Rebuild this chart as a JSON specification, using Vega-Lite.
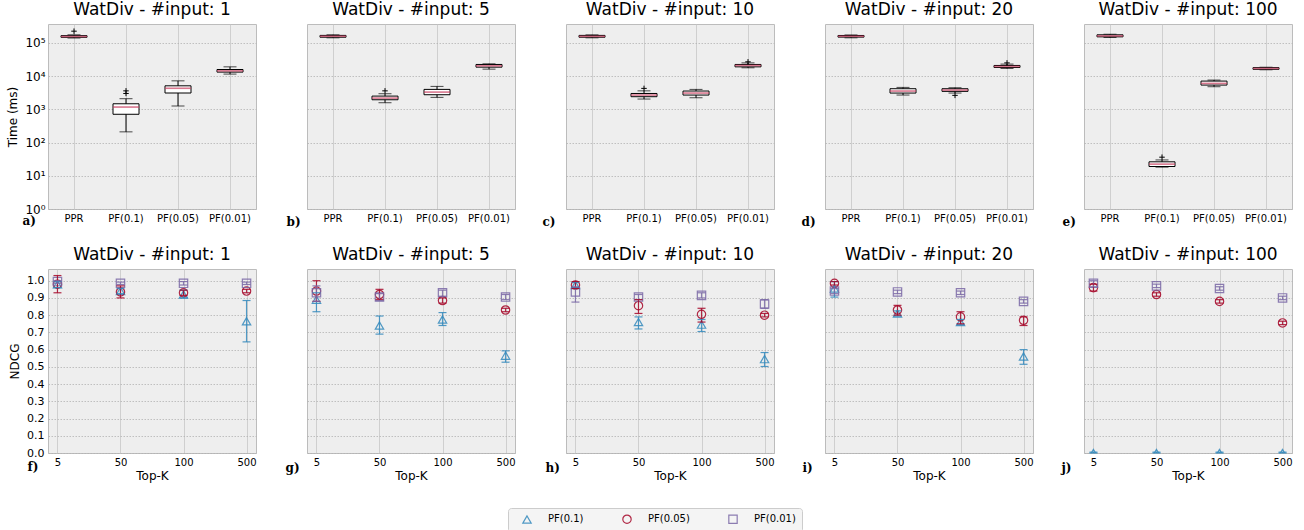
{
"$schema": "https://vega.github.io/schema/vega-lite/v6.json",
"padding": {"left": 6, "top": 0, "right": 5, "bottom": 0},
"datasets": {
"box": [
{"input":1,"method":"PPR","lo":140000,"q1":147000,"med":155000,"q3":165000,"hi":175000},
{"input":1,"method":"PF(0.1)","lo":210,"q1":710,"med":1170,"q3":1470,"hi":2090},
{"input":1,"method":"PF(0.05)","lo":1260,"q1":3100,"med":4300,"q3":5100,"hi":7200},
{"input":1,"method":"PF(0.01)","lo":11500,"q1":13200,"med":14400,"q3":15800,"hi":19000},
{"input":5,"method":"PPR","lo":142000,"q1":148000,"med":158000,"q3":168000,"hi":175000},
{"input":5,"method":"PF(0.1)","lo":1580,"q1":1940,"med":2180,"q3":2500,"hi":2950},
{"input":5,"method":"PF(0.05)","lo":2290,"q1":2750,"med":3300,"q3":3980,"hi":4900},
{"input":5,"method":"PF(0.01)","lo":16200,"q1":18600,"med":20400,"q3":22400,"hi":23400},
{"input":10,"method":"PPR","lo":142000,"q1":148000,"med":157000,"q3":168000,"hi":174000},
{"input":10,"method":"PF(0.1)","lo":2040,"q1":2400,"med":2690,"q3":3000,"hi":3600},
{"input":10,"method":"PF(0.05)","lo":2230,"q1":2690,"med":3090,"q3":3550,"hi":3980},
{"input":10,"method":"PF(0.01)","lo":17800,"q1":19000,"med":20900,"q3":22400,"hi":25000},
{"input":20,"method":"PPR","lo":142000,"q1":149000,"med":158000,"q3":167000,"hi":173000},
{"input":20,"method":"PF(0.1)","lo":2690,"q1":3090,"med":3550,"q3":4170,"hi":4570},
{"input":20,"method":"PF(0.05)","lo":3090,"q1":3470,"med":3800,"q3":4170,"hi":4470},
{"input":20,"method":"PF(0.01)","lo":17000,"q1":18200,"med":19500,"q3":20900,"hi":23000},
{"input":100,"method":"PPR","lo":145000,"q1":152000,"med":162000,"q3":175000,"hi":182000},
{"input":100,"method":"PF(0.1)","lo":18.2,"q1":19,"med":22.4,"q3":26.3,"hi":30},
{"input":100,"method":"PF(0.05)","lo":4790,"q1":5370,"med":6030,"q3":7080,"hi":7600},
{"input":100,"method":"PF(0.01)","lo":15500,"q1":16000,"med":17000,"q3":18000,"hi":18500}
],
"outliers": [
{"input":1,"method":"PPR","value":225000},
{"input":1,"method":"PF(0.1)","value":3000},
{"input":1,"method":"PF(0.1)","value":3600},
{"input":5,"method":"PF(0.1)","value":3600},
{"input":10,"method":"PF(0.1)","value":4270},
{"input":10,"method":"PF(0.01)","value":26900},
{"input":20,"method":"PF(0.05)","value":2630},
{"input":20,"method":"PF(0.01)","value":25000},
{"input":100,"method":"PF(0.1)","value":36.3}
],
"ndcg": [
{"input":1,"k":5,"method":"PF(0.1)","v":0.98,"lo":0.96,"hi":0.995},
{"input":1,"k":5,"method":"PF(0.05)","v":0.98,"lo":0.93,"hi":1.03},
{"input":1,"k":5,"method":"PF(0.01)","v":0.995,"lo":0.985,"hi":1.0},
{"input":1,"k":50,"method":"PF(0.1)","v":0.94,"lo":0.925,"hi":0.955},
{"input":1,"k":50,"method":"PF(0.05)","v":0.935,"lo":0.9,"hi":0.97},
{"input":1,"k":50,"method":"PF(0.01)","v":0.985,"lo":0.978,"hi":0.992},
{"input":1,"k":100,"method":"PF(0.1)","v":0.92,"lo":0.9,"hi":0.945},
{"input":1,"k":100,"method":"PF(0.05)","v":0.93,"lo":0.915,"hi":0.945},
{"input":1,"k":100,"method":"PF(0.01)","v":0.985,"lo":0.975,"hi":0.995},
{"input":1,"k":500,"method":"PF(0.1)","v":0.765,"lo":0.645,"hi":0.885},
{"input":1,"k":500,"method":"PF(0.05)","v":0.94,"lo":0.93,"hi":0.95},
{"input":1,"k":500,"method":"PF(0.01)","v":0.985,"lo":0.978,"hi":0.992},
{"input":5,"k":5,"method":"PF(0.1)","v":0.89,"lo":0.82,"hi":0.93},
{"input":5,"k":5,"method":"PF(0.05)","v":0.94,"lo":0.88,"hi":1.0},
{"input":5,"k":5,"method":"PF(0.01)","v":0.93,"lo":0.88,"hi":0.97},
{"input":5,"k":50,"method":"PF(0.1)","v":0.74,"lo":0.69,"hi":0.795},
{"input":5,"k":50,"method":"PF(0.05)","v":0.92,"lo":0.89,"hi":0.95},
{"input":5,"k":50,"method":"PF(0.01)","v":0.905,"lo":0.885,"hi":0.925},
{"input":5,"k":100,"method":"PF(0.1)","v":0.775,"lo":0.74,"hi":0.815},
{"input":5,"k":100,"method":"PF(0.05)","v":0.885,"lo":0.87,"hi":0.9},
{"input":5,"k":100,"method":"PF(0.01)","v":0.93,"lo":0.91,"hi":0.945},
{"input":5,"k":500,"method":"PF(0.1)","v":0.565,"lo":0.527,"hi":0.593},
{"input":5,"k":500,"method":"PF(0.05)","v":0.83,"lo":0.82,"hi":0.84},
{"input":5,"k":500,"method":"PF(0.01)","v":0.905,"lo":0.89,"hi":0.92},
{"input":10,"k":5,"method":"PF(0.1)","v":0.975,"lo":0.96,"hi":0.99},
{"input":10,"k":5,"method":"PF(0.05)","v":0.975,"lo":0.955,"hi":0.995},
{"input":10,"k":5,"method":"PF(0.01)","v":0.935,"lo":0.876,"hi":0.965},
{"input":10,"k":50,"method":"PF(0.1)","v":0.76,"lo":0.72,"hi":0.79},
{"input":10,"k":50,"method":"PF(0.05)","v":0.855,"lo":0.81,"hi":0.89},
{"input":10,"k":50,"method":"PF(0.01)","v":0.905,"lo":0.89,"hi":0.92},
{"input":10,"k":100,"method":"PF(0.1)","v":0.745,"lo":0.705,"hi":0.775},
{"input":10,"k":100,"method":"PF(0.05)","v":0.805,"lo":0.76,"hi":0.84},
{"input":10,"k":100,"method":"PF(0.01)","v":0.915,"lo":0.9,"hi":0.93},
{"input":10,"k":500,"method":"PF(0.1)","v":0.545,"lo":0.502,"hi":0.583},
{"input":10,"k":500,"method":"PF(0.05)","v":0.8,"lo":0.79,"hi":0.81},
{"input":10,"k":500,"method":"PF(0.01)","v":0.865,"lo":0.84,"hi":0.89},
{"input":20,"k":5,"method":"PF(0.1)","v":0.955,"lo":0.905,"hi":0.995},
{"input":20,"k":5,"method":"PF(0.05)","v":0.985,"lo":0.975,"hi":0.995},
{"input":20,"k":5,"method":"PF(0.01)","v":0.94,"lo":0.925,"hi":0.955},
{"input":20,"k":50,"method":"PF(0.1)","v":0.81,"lo":0.795,"hi":0.825},
{"input":20,"k":50,"method":"PF(0.05)","v":0.83,"lo":0.8,"hi":0.857},
{"input":20,"k":50,"method":"PF(0.01)","v":0.935,"lo":0.925,"hi":0.945},
{"input":20,"k":100,"method":"PF(0.1)","v":0.76,"lo":0.745,"hi":0.775},
{"input":20,"k":100,"method":"PF(0.05)","v":0.79,"lo":0.75,"hi":0.82},
{"input":20,"k":100,"method":"PF(0.01)","v":0.93,"lo":0.92,"hi":0.94},
{"input":20,"k":500,"method":"PF(0.1)","v":0.56,"lo":0.515,"hi":0.6},
{"input":20,"k":500,"method":"PF(0.05)","v":0.77,"lo":0.74,"hi":0.79},
{"input":20,"k":500,"method":"PF(0.01)","v":0.88,"lo":0.87,"hi":0.89},
{"input":100,"k":5,"method":"PF(0.1)","v":0.0,"lo":0.0,"hi":0.005},
{"input":100,"k":5,"method":"PF(0.05)","v":0.96,"lo":0.94,"hi":0.98},
{"input":100,"k":5,"method":"PF(0.01)","v":0.985,"lo":0.965,"hi":1.0},
{"input":100,"k":50,"method":"PF(0.1)","v":0.0,"lo":0.0,"hi":0.005},
{"input":100,"k":50,"method":"PF(0.05)","v":0.92,"lo":0.91,"hi":0.93},
{"input":100,"k":50,"method":"PF(0.01)","v":0.97,"lo":0.96,"hi":0.98},
{"input":100,"k":100,"method":"PF(0.1)","v":0.0,"lo":0.0,"hi":0.005},
{"input":100,"k":100,"method":"PF(0.05)","v":0.88,"lo":0.87,"hi":0.89},
{"input":100,"k":100,"method":"PF(0.01)","v":0.955,"lo":0.945,"hi":0.965},
{"input":100,"k":500,"method":"PF(0.1)","v":0.0,"lo":0.0,"hi":0.005},
{"input":100,"k":500,"method":"PF(0.05)","v":0.755,"lo":0.745,"hi":0.765},
{"input":100,"k":500,"method":"PF(0.01)","v":0.9,"lo":0.89,"hi":0.91}
]
},
"config": {
"background": "white",
"font": "DejaVu Sans",
"view": {"fill": "#eeeeee", "stroke": "#bcbcbc", "strokeWidth": 1},
"title": {"fontSize": 17, "fontWeight": "normal", "font": "DejaVu Sans", "baseline": "alphabetic", "offset": 5, "color": "black"},
"axis": {"domain": false, "ticks": false, "labelFont": "DejaVu Sans", "labelFontSize": 10, "labelColor": "black", "titleFont": "DejaVu Sans", "titleFontSize": 12, "titleFontWeight": "normal", "titleColor": "black", "gridColor": "#b2b2b2", "gridDash": [1.5, 1.5], "gridWidth": 0.8},
"legend": {"orient": "none", "legendX": 460, "legendY": 484, "direction": "horizontal", "columns": 3, "columnPadding": 30, "padding": 6, "strokeColor": "#cccccc", "fillColor": "#f4f4f4", "cornerRadius": 3, "labelFont": "DejaVu Sans", "labelFontSize": 10, "labelColor": "black", "symbolStrokeWidth": 1.2, "symbolSize": 70, "symbolOffset": 8, "labelOffset": 16}
},
"bounds": "flush",
"columns": 5,
"spacing": {"row": 60, "column": 51},
"concat": [
{"width": 208, "height": 185, "title": "WatDiv - #input: 1", "layer": [
 {"data": {"name": "box"}, "transform": [{"filter": "datum.input == 1"}],
  "encoding": {"x": {"field": "method", "type": "nominal", "sort": ["PPR","PF(0.1)","PF(0.05)","PF(0.01)"], "scale": {"paddingInner": 0, "paddingOuter": 0}, "axis": {"title": "a)", "titleX": -26, "titleY": 15, "titleAlign": "left", "titleBaseline": "alphabetic", "titleFont": "DejaVu Serif", "titleFontWeight": "bold", "titleFontSize": 12, "labelAngle": 0, "labelPadding": 4, "bandPosition": 0.5, "grid": true, "gridDash": [], "gridColor": "#c6c6c6"}}},
  "layer": [
   {"mark": {"type": "rule", "color": "black", "strokeWidth": 1}, "encoding": {"y": {"field": "lo", "type": "quantitative", "scale": {"type": "log", "domain": [1, 370000], "nice": false}, "axis": {"title": "Time (ms)", "values": [1,10,100,1000,10000,100000], "labelExpr": "'10' + ['⁰','¹','²','³','⁴','⁵'][round(log(datum.value)/LN10)]", "labelFontSize": 12, "labelPadding": 3, "titlePadding": 5}}, "y2": {"field": "hi"}}},
   {"mark": {"type": "tick", "size": 13, "thickness": 1, "color": "black"}, "encoding": {"y": {"field": "lo", "type": "quantitative"}}},
   {"mark": {"type": "tick", "size": 13, "thickness": 1, "color": "black"}, "encoding": {"y": {"field": "hi", "type": "quantitative"}}},
   {"mark": {"type": "bar", "size": 26, "fill": "white", "stroke": "black", "strokeWidth": 1}, "encoding": {"y": {"field": "q1", "type": "quantitative"}, "y2": {"field": "q3"}}},
   {"mark": {"type": "tick", "size": 26, "thickness": 1.6, "color": "#C83D5F"}, "encoding": {"y": {"field": "med", "type": "quantitative"}}}
  ]},
 {"data": {"name": "outliers"}, "transform": [{"filter": "datum.input == 1"}], "mark": {"type": "point", "shape": "M-1,0L1,0M0,-1L0,1", "filled": false, "stroke": "black", "strokeWidth": 1, "size": 30, "opacity": 1}, "encoding": {"x": {"field": "method", "type": "nominal", "sort": ["PPR","PF(0.1)","PF(0.05)","PF(0.01)"]}, "y": {"field": "value", "type": "quantitative"}}}
]},
{"width": 208, "height": 185, "title": "WatDiv - #input: 5", "layer": [
 {"data": {"name": "box"}, "transform": [{"filter": "datum.input == 5"}],
  "encoding": {"x": {"field": "method", "type": "nominal", "sort": ["PPR","PF(0.1)","PF(0.05)","PF(0.01)"], "scale": {"paddingInner": 0, "paddingOuter": 0}, "axis": {"title": "b)", "titleX": -21, "titleY": 16, "titleAlign": "left", "titleBaseline": "alphabetic", "titleFont": "DejaVu Serif", "titleFontWeight": "bold", "titleFontSize": 12, "labelAngle": 0, "labelPadding": 4, "bandPosition": 0.5, "grid": true, "gridDash": [], "gridColor": "#c6c6c6"}}},
  "layer": [
   {"mark": {"type": "rule", "color": "black", "strokeWidth": 1}, "encoding": {"y": {"field": "lo", "type": "quantitative", "scale": {"type": "log", "domain": [1, 370000], "nice": false}, "axis": {"title": null, "values": [1,10,100,1000,10000,100000], "labels": false}}, "y2": {"field": "hi"}}},
   {"mark": {"type": "tick", "size": 13, "thickness": 1, "color": "black"}, "encoding": {"y": {"field": "lo", "type": "quantitative"}}},
   {"mark": {"type": "tick", "size": 13, "thickness": 1, "color": "black"}, "encoding": {"y": {"field": "hi", "type": "quantitative"}}},
   {"mark": {"type": "bar", "size": 26, "fill": "white", "stroke": "black", "strokeWidth": 1}, "encoding": {"y": {"field": "q1", "type": "quantitative"}, "y2": {"field": "q3"}}},
   {"mark": {"type": "tick", "size": 26, "thickness": 1.6, "color": "#C83D5F"}, "encoding": {"y": {"field": "med", "type": "quantitative"}}}
  ]},
 {"data": {"name": "outliers"}, "transform": [{"filter": "datum.input == 5"}], "mark": {"type": "point", "shape": "M-1,0L1,0M0,-1L0,1", "filled": false, "stroke": "black", "strokeWidth": 1, "size": 30, "opacity": 1}, "encoding": {"x": {"field": "method", "type": "nominal", "sort": ["PPR","PF(0.1)","PF(0.05)","PF(0.01)"]}, "y": {"field": "value", "type": "quantitative"}}}
]},
{"width": 208, "height": 185, "title": "WatDiv - #input: 10", "layer": [
 {"data": {"name": "box"}, "transform": [{"filter": "datum.input == 10"}],
  "encoding": {"x": {"field": "method", "type": "nominal", "sort": ["PPR","PF(0.1)","PF(0.05)","PF(0.01)"], "scale": {"paddingInner": 0, "paddingOuter": 0}, "axis": {"title": "c)", "titleX": -24, "titleY": 16, "titleAlign": "left", "titleBaseline": "alphabetic", "titleFont": "DejaVu Serif", "titleFontWeight": "bold", "titleFontSize": 12, "labelAngle": 0, "labelPadding": 4, "bandPosition": 0.5, "grid": true, "gridDash": [], "gridColor": "#c6c6c6"}}},
  "layer": [
   {"mark": {"type": "rule", "color": "black", "strokeWidth": 1}, "encoding": {"y": {"field": "lo", "type": "quantitative", "scale": {"type": "log", "domain": [1, 370000], "nice": false}, "axis": {"title": null, "values": [1,10,100,1000,10000,100000], "labels": false}}, "y2": {"field": "hi"}}},
   {"mark": {"type": "tick", "size": 13, "thickness": 1, "color": "black"}, "encoding": {"y": {"field": "lo", "type": "quantitative"}}},
   {"mark": {"type": "tick", "size": 13, "thickness": 1, "color": "black"}, "encoding": {"y": {"field": "hi", "type": "quantitative"}}},
   {"mark": {"type": "bar", "size": 26, "fill": "white", "stroke": "black", "strokeWidth": 1}, "encoding": {"y": {"field": "q1", "type": "quantitative"}, "y2": {"field": "q3"}}},
   {"mark": {"type": "tick", "size": 26, "thickness": 1.6, "color": "#C83D5F"}, "encoding": {"y": {"field": "med", "type": "quantitative"}}}
  ]},
 {"data": {"name": "outliers"}, "transform": [{"filter": "datum.input == 10"}], "mark": {"type": "point", "shape": "M-1,0L1,0M0,-1L0,1", "filled": false, "stroke": "black", "strokeWidth": 1, "size": 30, "opacity": 1}, "encoding": {"x": {"field": "method", "type": "nominal", "sort": ["PPR","PF(0.1)","PF(0.05)","PF(0.01)"]}, "y": {"field": "value", "type": "quantitative"}}}
]},
{"width": 208, "height": 185, "title": "WatDiv - #input: 20", "layer": [
 {"data": {"name": "box"}, "transform": [{"filter": "datum.input == 20"}],
  "encoding": {"x": {"field": "method", "type": "nominal", "sort": ["PPR","PF(0.1)","PF(0.05)","PF(0.01)"], "scale": {"paddingInner": 0, "paddingOuter": 0}, "axis": {"title": "d)", "titleX": -24, "titleY": 16, "titleAlign": "left", "titleBaseline": "alphabetic", "titleFont": "DejaVu Serif", "titleFontWeight": "bold", "titleFontSize": 12, "labelAngle": 0, "labelPadding": 4, "bandPosition": 0.5, "grid": true, "gridDash": [], "gridColor": "#c6c6c6"}}},
  "layer": [
   {"mark": {"type": "rule", "color": "black", "strokeWidth": 1}, "encoding": {"y": {"field": "lo", "type": "quantitative", "scale": {"type": "log", "domain": [1, 370000], "nice": false}, "axis": {"title": null, "values": [1,10,100,1000,10000,100000], "labels": false}}, "y2": {"field": "hi"}}},
   {"mark": {"type": "tick", "size": 13, "thickness": 1, "color": "black"}, "encoding": {"y": {"field": "lo", "type": "quantitative"}}},
   {"mark": {"type": "tick", "size": 13, "thickness": 1, "color": "black"}, "encoding": {"y": {"field": "hi", "type": "quantitative"}}},
   {"mark": {"type": "bar", "size": 26, "fill": "white", "stroke": "black", "strokeWidth": 1}, "encoding": {"y": {"field": "q1", "type": "quantitative"}, "y2": {"field": "q3"}}},
   {"mark": {"type": "tick", "size": 26, "thickness": 1.6, "color": "#C83D5F"}, "encoding": {"y": {"field": "med", "type": "quantitative"}}}
  ]},
 {"data": {"name": "outliers"}, "transform": [{"filter": "datum.input == 20"}], "mark": {"type": "point", "shape": "M-1,0L1,0M0,-1L0,1", "filled": false, "stroke": "black", "strokeWidth": 1, "size": 30, "opacity": 1}, "encoding": {"x": {"field": "method", "type": "nominal", "sort": ["PPR","PF(0.1)","PF(0.05)","PF(0.01)"]}, "y": {"field": "value", "type": "quantitative"}}}
]},
{"width": 208, "height": 185, "title": "WatDiv - #input: 100", "layer": [
 {"data": {"name": "box"}, "transform": [{"filter": "datum.input == 100"}],
  "encoding": {"x": {"field": "method", "type": "nominal", "sort": ["PPR","PF(0.1)","PF(0.05)","PF(0.01)"], "scale": {"paddingInner": 0, "paddingOuter": 0}, "axis": {"title": "e)", "titleX": -22, "titleY": 16, "titleAlign": "left", "titleBaseline": "alphabetic", "titleFont": "DejaVu Serif", "titleFontWeight": "bold", "titleFontSize": 12, "labelAngle": 0, "labelPadding": 4, "bandPosition": 0.5, "grid": true, "gridDash": [], "gridColor": "#c6c6c6"}}},
  "layer": [
   {"mark": {"type": "rule", "color": "black", "strokeWidth": 1}, "encoding": {"y": {"field": "lo", "type": "quantitative", "scale": {"type": "log", "domain": [1, 370000], "nice": false}, "axis": {"title": null, "values": [1,10,100,1000,10000,100000], "labels": false}}, "y2": {"field": "hi"}}},
   {"mark": {"type": "tick", "size": 13, "thickness": 1, "color": "black"}, "encoding": {"y": {"field": "lo", "type": "quantitative"}}},
   {"mark": {"type": "tick", "size": 13, "thickness": 1, "color": "black"}, "encoding": {"y": {"field": "hi", "type": "quantitative"}}},
   {"mark": {"type": "bar", "size": 26, "fill": "white", "stroke": "black", "strokeWidth": 1}, "encoding": {"y": {"field": "q1", "type": "quantitative"}, "y2": {"field": "q3"}}},
   {"mark": {"type": "tick", "size": 26, "thickness": 1.6, "color": "#C83D5F"}, "encoding": {"y": {"field": "med", "type": "quantitative"}}}
  ]},
 {"data": {"name": "outliers"}, "transform": [{"filter": "datum.input == 100"}], "mark": {"type": "point", "shape": "M-1,0L1,0M0,-1L0,1", "filled": false, "stroke": "black", "strokeWidth": 1, "size": 30, "opacity": 1}, "encoding": {"x": {"field": "method", "type": "nominal", "sort": ["PPR","PF(0.1)","PF(0.05)","PF(0.01)"]}, "y": {"field": "value", "type": "quantitative"}}}
]},
{"width": 208, "height": 184, "title": "WatDiv - #input: 1", "data": {"name": "ndcg"}, "transform": [{"filter": "datum.input == 1"}],
 "layer": [
  {"mark": {"type": "point", "filled": false, "size": 70, "strokeWidth": 1.2, "opacity": 0.85, "clip": true}, "encoding": {"x": {"field": "k", "type": "ordinal", "sort": [5,50,100,500], "scale": {"type": "point", "padding": 0.15}, "axis": {"title": "Top-K", "orient": "bottom", "labelAngle": 0, "labelPadding": 4, "titlePadding": 3, "grid": true, "gridDash": [], "gridColor": "#c6c6c6"}}, "y": {"field": "v", "type": "quantitative", "scale": {"domain": [0, 1.068], "nice": false, "zero": false}, "axis": {"title": "NDCG", "values": [0,0.1,0.2,0.3,0.4,0.5,0.6,0.7,0.8,0.9,1.0], "format": ".1f", "labelFontSize": 11, "labelPadding": 4, "titlePadding": 5, "labelOverlap": false}},
    "shape": {"field": "method", "type": "nominal", "scale": {"domain": ["PF(0.1)","PF(0.05)","PF(0.01)"], "range": ["triangle-up","circle","square"]}, "legend": {"title": null}},
    "color": {"field": "method", "type": "nominal", "scale": {"domain": ["PF(0.1)","PF(0.05)","PF(0.01)"], "range": ["#348ABD","#A60628","#7A68A6"]}, "legend": {"title": null}}}},
  {"mark": {"type": "rule", "strokeWidth": 1.2, "opacity": 0.85}, "encoding": {"x": {"field": "k", "type": "ordinal", "sort": [5,50,100,500], "axis": null}, "y": {"field": "lo", "type": "quantitative", "axis": {"title": "NDCG", "values": [0,0.1,0.2,0.3,0.4,0.5,0.6,0.7,0.8,0.9,1.0], "format": ".1f", "labelFontSize": 11, "labelPadding": 4, "titlePadding": 5, "labelOverlap": false}}, "y2": {"field": "hi"}, "color": {"field": "method", "type": "nominal", "legend": null}}},
  {"mark": {"type": "point", "shape": "M-1,0L1,0", "filled": false, "size": 64, "strokeWidth": 1.2, "opacity": 0.85}, "encoding": {"x": {"field": "k", "type": "ordinal", "sort": [5,50,100,500], "axis": null}, "y": {"field": "lo", "type": "quantitative", "axis": {"title": "NDCG", "values": [0,0.1,0.2,0.3,0.4,0.5,0.6,0.7,0.8,0.9,1.0], "format": ".1f", "labelFontSize": 11, "labelPadding": 4, "titlePadding": 5, "labelOverlap": false}}, "color": {"field": "method", "type": "nominal", "legend": null}}},
  {"mark": {"type": "point", "shape": "M-1,0L1,0", "filled": false, "size": 64, "strokeWidth": 1.2, "opacity": 0.85}, "encoding": {"x": {"field": "k", "type": "ordinal", "sort": [5,50,100,500], "axis": null}, "y": {"field": "hi", "type": "quantitative", "axis": {"title": "NDCG", "values": [0,0.1,0.2,0.3,0.4,0.5,0.6,0.7,0.8,0.9,1.0], "format": ".1f", "labelFontSize": 11, "labelPadding": 4, "titlePadding": 5, "labelOverlap": false}}, "color": {"field": "method", "type": "nominal", "legend": null}}},
  {"mark": {"type": "rule", "opacity": 0}, "encoding": {"x": {"field": "k", "type": "ordinal", "sort": [5,50,100,500], "axis": {"title": "f)", "orient": "bottom", "labels": false, "ticks": false, "domain": false, "grid": false, "titleX": -21, "titleY": 17, "titleAlign": "left", "titleBaseline": "alphabetic", "titleFont": "DejaVu Serif", "titleFontWeight": "bold", "titleFontSize": 12}}}}
 ],
 "resolve": {"axis": {"x": "independent"}}},
{"width": 208, "height": 184, "title": "WatDiv - #input: 5", "data": {"name": "ndcg"}, "transform": [{"filter": "datum.input == 5"}],
 "layer": [
  {"mark": {"type": "point", "filled": false, "size": 70, "strokeWidth": 1.2, "opacity": 0.85, "clip": true}, "encoding": {"x": {"field": "k", "type": "ordinal", "sort": [5,50,100,500], "scale": {"type": "point", "padding": 0.15}, "axis": {"title": "Top-K", "orient": "bottom", "labelAngle": 0, "labelPadding": 4, "titlePadding": 3, "grid": true, "gridDash": [], "gridColor": "#c6c6c6"}}, "y": {"field": "v", "type": "quantitative", "scale": {"domain": [0, 1.068], "nice": false, "zero": false}, "axis": {"title": null, "values": [0,0.1,0.2,0.3,0.4,0.5,0.6,0.7,0.8,0.9,1.0], "labels": false}},
    "shape": {"field": "method", "type": "nominal", "scale": {"domain": ["PF(0.1)","PF(0.05)","PF(0.01)"], "range": ["triangle-up","circle","square"]}, "legend": {"title": null}},
    "color": {"field": "method", "type": "nominal", "scale": {"domain": ["PF(0.1)","PF(0.05)","PF(0.01)"], "range": ["#348ABD","#A60628","#7A68A6"]}, "legend": {"title": null}}}},
  {"mark": {"type": "rule", "strokeWidth": 1.2, "opacity": 0.85}, "encoding": {"x": {"field": "k", "type": "ordinal", "sort": [5,50,100,500], "axis": null}, "y": {"field": "lo", "type": "quantitative", "axis": {"title": null, "values": [0,0.1,0.2,0.3,0.4,0.5,0.6,0.7,0.8,0.9,1.0], "labels": false}}, "y2": {"field": "hi"}, "color": {"field": "method", "type": "nominal", "legend": null}}},
  {"mark": {"type": "point", "shape": "M-1,0L1,0", "filled": false, "size": 64, "strokeWidth": 1.2, "opacity": 0.85}, "encoding": {"x": {"field": "k", "type": "ordinal", "sort": [5,50,100,500], "axis": null}, "y": {"field": "lo", "type": "quantitative", "axis": {"title": null, "values": [0,0.1,0.2,0.3,0.4,0.5,0.6,0.7,0.8,0.9,1.0], "labels": false}}, "color": {"field": "method", "type": "nominal", "legend": null}}},
  {"mark": {"type": "point", "shape": "M-1,0L1,0", "filled": false, "size": 64, "strokeWidth": 1.2, "opacity": 0.85}, "encoding": {"x": {"field": "k", "type": "ordinal", "sort": [5,50,100,500], "axis": null}, "y": {"field": "hi", "type": "quantitative", "axis": {"title": null, "values": [0,0.1,0.2,0.3,0.4,0.5,0.6,0.7,0.8,0.9,1.0], "labels": false}}, "color": {"field": "method", "type": "nominal", "legend": null}}},
  {"mark": {"type": "rule", "opacity": 0}, "encoding": {"x": {"field": "k", "type": "ordinal", "sort": [5,50,100,500], "axis": {"title": "g)", "orient": "bottom", "labels": false, "ticks": false, "domain": false, "grid": false, "titleX": -22, "titleY": 18, "titleAlign": "left", "titleBaseline": "alphabetic", "titleFont": "DejaVu Serif", "titleFontWeight": "bold", "titleFontSize": 12}}}}
 ],
 "resolve": {"axis": {"x": "independent"}}},
{"width": 208, "height": 184, "title": "WatDiv - #input: 10", "data": {"name": "ndcg"}, "transform": [{"filter": "datum.input == 10"}],
 "layer": [
  {"mark": {"type": "point", "filled": false, "size": 70, "strokeWidth": 1.2, "opacity": 0.85, "clip": true}, "encoding": {"x": {"field": "k", "type": "ordinal", "sort": [5,50,100,500], "scale": {"type": "point", "padding": 0.15}, "axis": {"title": "Top-K", "orient": "bottom", "labelAngle": 0, "labelPadding": 4, "titlePadding": 3, "grid": true, "gridDash": [], "gridColor": "#c6c6c6"}}, "y": {"field": "v", "type": "quantitative", "scale": {"domain": [0, 1.068], "nice": false, "zero": false}, "axis": {"title": null, "values": [0,0.1,0.2,0.3,0.4,0.5,0.6,0.7,0.8,0.9,1.0], "labels": false}},
    "shape": {"field": "method", "type": "nominal", "scale": {"domain": ["PF(0.1)","PF(0.05)","PF(0.01)"], "range": ["triangle-up","circle","square"]}, "legend": {"title": null}},
    "color": {"field": "method", "type": "nominal", "scale": {"domain": ["PF(0.1)","PF(0.05)","PF(0.01)"], "range": ["#348ABD","#A60628","#7A68A6"]}, "legend": {"title": null}}}},
  {"mark": {"type": "rule", "strokeWidth": 1.2, "opacity": 0.85}, "encoding": {"x": {"field": "k", "type": "ordinal", "sort": [5,50,100,500], "axis": null}, "y": {"field": "lo", "type": "quantitative", "axis": {"title": null, "values": [0,0.1,0.2,0.3,0.4,0.5,0.6,0.7,0.8,0.9,1.0], "labels": false}}, "y2": {"field": "hi"}, "color": {"field": "method", "type": "nominal", "legend": null}}},
  {"mark": {"type": "point", "shape": "M-1,0L1,0", "filled": false, "size": 64, "strokeWidth": 1.2, "opacity": 0.85}, "encoding": {"x": {"field": "k", "type": "ordinal", "sort": [5,50,100,500], "axis": null}, "y": {"field": "lo", "type": "quantitative", "axis": {"title": null, "values": [0,0.1,0.2,0.3,0.4,0.5,0.6,0.7,0.8,0.9,1.0], "labels": false}}, "color": {"field": "method", "type": "nominal", "legend": null}}},
  {"mark": {"type": "point", "shape": "M-1,0L1,0", "filled": false, "size": 64, "strokeWidth": 1.2, "opacity": 0.85}, "encoding": {"x": {"field": "k", "type": "ordinal", "sort": [5,50,100,500], "axis": null}, "y": {"field": "hi", "type": "quantitative", "axis": {"title": null, "values": [0,0.1,0.2,0.3,0.4,0.5,0.6,0.7,0.8,0.9,1.0], "labels": false}}, "color": {"field": "method", "type": "nominal", "legend": null}}},
  {"mark": {"type": "rule", "opacity": 0}, "encoding": {"x": {"field": "k", "type": "ordinal", "sort": [5,50,100,500], "axis": {"title": "h)", "orient": "bottom", "labels": false, "ticks": false, "domain": false, "grid": false, "titleX": -21, "titleY": 18, "titleAlign": "left", "titleBaseline": "alphabetic", "titleFont": "DejaVu Serif", "titleFontWeight": "bold", "titleFontSize": 12}}}}
 ],
 "resolve": {"axis": {"x": "independent"}}},
{"width": 208, "height": 184, "title": "WatDiv - #input: 20", "data": {"name": "ndcg"}, "transform": [{"filter": "datum.input == 20"}],
 "layer": [
  {"mark": {"type": "point", "filled": false, "size": 70, "strokeWidth": 1.2, "opacity": 0.85, "clip": true}, "encoding": {"x": {"field": "k", "type": "ordinal", "sort": [5,50,100,500], "scale": {"type": "point", "padding": 0.15}, "axis": {"title": "Top-K", "orient": "bottom", "labelAngle": 0, "labelPadding": 4, "titlePadding": 3, "grid": true, "gridDash": [], "gridColor": "#c6c6c6"}}, "y": {"field": "v", "type": "quantitative", "scale": {"domain": [0, 1.068], "nice": false, "zero": false}, "axis": {"title": null, "values": [0,0.1,0.2,0.3,0.4,0.5,0.6,0.7,0.8,0.9,1.0], "labels": false}},
    "shape": {"field": "method", "type": "nominal", "scale": {"domain": ["PF(0.1)","PF(0.05)","PF(0.01)"], "range": ["triangle-up","circle","square"]}, "legend": {"title": null}},
    "color": {"field": "method", "type": "nominal", "scale": {"domain": ["PF(0.1)","PF(0.05)","PF(0.01)"], "range": ["#348ABD","#A60628","#7A68A6"]}, "legend": {"title": null}}}},
  {"mark": {"type": "rule", "strokeWidth": 1.2, "opacity": 0.85}, "encoding": {"x": {"field": "k", "type": "ordinal", "sort": [5,50,100,500], "axis": null}, "y": {"field": "lo", "type": "quantitative", "axis": {"title": null, "values": [0,0.1,0.2,0.3,0.4,0.5,0.6,0.7,0.8,0.9,1.0], "labels": false}}, "y2": {"field": "hi"}, "color": {"field": "method", "type": "nominal", "legend": null}}},
  {"mark": {"type": "point", "shape": "M-1,0L1,0", "filled": false, "size": 64, "strokeWidth": 1.2, "opacity": 0.85}, "encoding": {"x": {"field": "k", "type": "ordinal", "sort": [5,50,100,500], "axis": null}, "y": {"field": "lo", "type": "quantitative", "axis": {"title": null, "values": [0,0.1,0.2,0.3,0.4,0.5,0.6,0.7,0.8,0.9,1.0], "labels": false}}, "color": {"field": "method", "type": "nominal", "legend": null}}},
  {"mark": {"type": "point", "shape": "M-1,0L1,0", "filled": false, "size": 64, "strokeWidth": 1.2, "opacity": 0.85}, "encoding": {"x": {"field": "k", "type": "ordinal", "sort": [5,50,100,500], "axis": null}, "y": {"field": "hi", "type": "quantitative", "axis": {"title": null, "values": [0,0.1,0.2,0.3,0.4,0.5,0.6,0.7,0.8,0.9,1.0], "labels": false}}, "color": {"field": "method", "type": "nominal", "legend": null}}},
  {"mark": {"type": "rule", "opacity": 0}, "encoding": {"x": {"field": "k", "type": "ordinal", "sort": [5,50,100,500], "axis": {"title": "i)", "orient": "bottom", "labels": false, "ticks": false, "domain": false, "grid": false, "titleX": -23, "titleY": 18, "titleAlign": "left", "titleBaseline": "alphabetic", "titleFont": "DejaVu Serif", "titleFontWeight": "bold", "titleFontSize": 12}}}}
 ],
 "resolve": {"axis": {"x": "independent"}}},
{"width": 208, "height": 184, "title": "WatDiv - #input: 100", "data": {"name": "ndcg"}, "transform": [{"filter": "datum.input == 100"}],
 "layer": [
  {"mark": {"type": "point", "filled": false, "size": 70, "strokeWidth": 1.2, "opacity": 0.85, "clip": true}, "encoding": {"x": {"field": "k", "type": "ordinal", "sort": [5,50,100,500], "scale": {"type": "point", "padding": 0.15}, "axis": {"title": "Top-K", "orient": "bottom", "labelAngle": 0, "labelPadding": 4, "titlePadding": 3, "grid": true, "gridDash": [], "gridColor": "#c6c6c6"}}, "y": {"field": "v", "type": "quantitative", "scale": {"domain": [0, 1.068], "nice": false, "zero": false}, "axis": {"title": null, "values": [0,0.1,0.2,0.3,0.4,0.5,0.6,0.7,0.8,0.9,1.0], "labels": false}},
    "shape": {"field": "method", "type": "nominal", "scale": {"domain": ["PF(0.1)","PF(0.05)","PF(0.01)"], "range": ["triangle-up","circle","square"]}, "legend": {"title": null}},
    "color": {"field": "method", "type": "nominal", "scale": {"domain": ["PF(0.1)","PF(0.05)","PF(0.01)"], "range": ["#348ABD","#A60628","#7A68A6"]}, "legend": {"title": null}}}},
  {"mark": {"type": "rule", "strokeWidth": 1.2, "opacity": 0.85}, "encoding": {"x": {"field": "k", "type": "ordinal", "sort": [5,50,100,500], "axis": null}, "y": {"field": "lo", "type": "quantitative", "axis": {"title": null, "values": [0,0.1,0.2,0.3,0.4,0.5,0.6,0.7,0.8,0.9,1.0], "labels": false}}, "y2": {"field": "hi"}, "color": {"field": "method", "type": "nominal", "legend": null}}},
  {"mark": {"type": "point", "shape": "M-1,0L1,0", "filled": false, "size": 64, "strokeWidth": 1.2, "opacity": 0.85}, "encoding": {"x": {"field": "k", "type": "ordinal", "sort": [5,50,100,500], "axis": null}, "y": {"field": "lo", "type": "quantitative", "axis": {"title": null, "values": [0,0.1,0.2,0.3,0.4,0.5,0.6,0.7,0.8,0.9,1.0], "labels": false}}, "color": {"field": "method", "type": "nominal", "legend": null}}},
  {"mark": {"type": "point", "shape": "M-1,0L1,0", "filled": false, "size": 64, "strokeWidth": 1.2, "opacity": 0.85}, "encoding": {"x": {"field": "k", "type": "ordinal", "sort": [5,50,100,500], "axis": null}, "y": {"field": "hi", "type": "quantitative", "axis": {"title": null, "values": [0,0.1,0.2,0.3,0.4,0.5,0.6,0.7,0.8,0.9,1.0], "labels": false}}, "color": {"field": "method", "type": "nominal", "legend": null}}},
  {"mark": {"type": "rule", "opacity": 0}, "encoding": {"x": {"field": "k", "type": "ordinal", "sort": [5,50,100,500], "axis": {"title": "j)", "orient": "bottom", "labels": false, "ticks": false, "domain": false, "grid": false, "titleX": -23, "titleY": 18, "titleAlign": "left", "titleBaseline": "alphabetic", "titleFont": "DejaVu Serif", "titleFontWeight": "bold", "titleFontSize": 12}}}}
 ],
 "resolve": {"axis": {"x": "independent"}}}
]
}
